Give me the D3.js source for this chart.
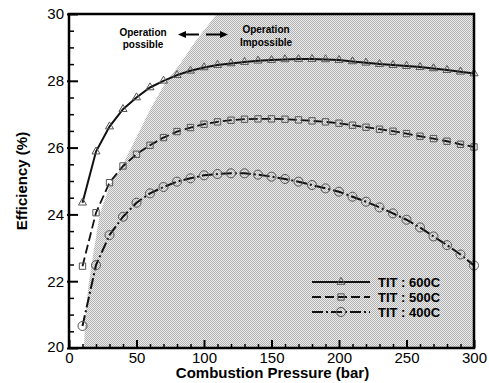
<!DOCTYPE html>
<html>
<head>
<meta charset="utf-8">
<script src="https://cdn.jsdelivr.net/npm/d3@7"></script>
<style>
  html, body { margin: 0; padding: 0; background: #fff; }
  svg { display: block; }
  text { font-family: "Liberation Sans", Arial, sans-serif; fill: #000; }
</style>
</head>
<body>
<div id="chart"></div>
<script>
// combustion pressure (bar)
const pressure = [10, 20, 30, 40, 50, 60, 70, 80, 90, 100, 110, 120, 130, 140, 150,
                  160, 170, 180, 190, 200, 210, 220, 230, 240, 250, 260, 270, 280, 290, 300];

// efficiency (%) per turbine inlet temperature
const eff600 = [24.35, 25.88, 26.63, 27.15, 27.5, 27.8, 28.0, 28.17, 28.3, 28.4, 28.47, 28.52, 28.56, 28.6, 28.62,
                28.64, 28.65, 28.65, 28.64, 28.62, 28.58, 28.54, 28.5, 28.47, 28.44, 28.41, 28.37, 28.32, 28.27, 28.22];
const eff500 = [22.45, 24.05, 24.95, 25.45, 25.8, 26.07, 26.3, 26.48, 26.6, 26.7, 26.77, 26.82, 26.85, 26.86, 26.86,
                26.85, 26.83, 26.8, 26.77, 26.73, 26.67, 26.61, 26.55, 26.49, 26.42, 26.34, 26.27, 26.19, 26.1, 26.02];
const eff400 = [20.66, 22.48, 23.38, 23.93, 24.35, 24.63, 24.82, 24.98, 25.08, 25.17, 25.21, 25.23, 25.23, 25.19, 25.13,
                25.06, 24.98, 24.88, 24.78, 24.68, 24.53, 24.38, 24.21, 24.03, 23.84, 23.61, 23.34, 23.08, 22.8, 22.47];

// limit of possible operation (pressure, efficiency)
const limitP = [11.1, 11.9, 14.3, 18.0, 23.0, 30.4, 39.0, 45.2, 52.6, 60.0, 71.1, 82.2, 93.3, 109.4];
const limitE = [20.0, 20.84, 21.84, 22.84, 24.04, 24.88, 25.43, 25.93, 26.53, 27.13, 27.93, 28.5, 29.16, 30.0];

const seriesNames = ["TIT : 600C", "TIT : 500C", "TIT : 400C"];
const xTicks = [0, 50, 100, 150, 200, 250, 300];
const yTicks = [20, 22, 24, 26, 28, 30];

const W = 489, H = 383;
const margin = { left: 69, right: 15, top: 14, bottom: 35 };

const svg = d3.select("#chart").append("svg")
  .attr("width", W)
  .attr("height", H);

const x = d3.scaleLinear().domain([0, 300]).range([margin.left, W - margin.right]);
const y = d3.scaleLinear().domain([20, 30]).range([H - margin.bottom, margin.top]);

// halftone-like grey pattern for the impossible region
const defs = svg.append("defs");
const pat = defs.append("pattern")
  .attr("id", "halftone")
  .attr("patternUnits", "userSpaceOnUse")
  .attr("width", 2).attr("height", 2);
pat.append("rect").attr("width", 2).attr("height", 2).attr("fill", "#ececec");
pat.append("rect").attr("x", 0).attr("y", 0).attr("width", 1).attr("height", 1).attr("fill", "#b2b2b2");
pat.append("rect").attr("x", 1).attr("y", 1).attr("width", 1).attr("height", 1).attr("fill", "#b2b2b2");

// shaded region right of the limit curve
const limit = limitP.map((p, i) => [p, limitE[i]]);
const region = limit.concat([[300, 30], [300, 20]]);
svg.append("path")
  .attr("d", d3.line().x(d => x(d[0])).y(d => y(d[1])).curve(d3.curveLinear)(region) + "Z")
  .attr("fill", "url(#halftone)");

// minor ticks
const xMinor = pressure.filter(v => v % 50 !== 0);
const yMinor = [20.5, 21, 21.5, 22.5, 23, 23.5, 24.5, 25, 25.5, 26.5, 27, 27.5, 28.5, 29, 29.5];

svg.append("g")
  .attr("transform", `translate(0,${y(20)})`)
  .call(d3.axisBottom(x).tickValues(xMinor).tickSizeInner(-4).tickSizeOuter(0).tickFormat(""))
  .call(g => g.select(".domain").remove())
  .selectAll("line").attr("stroke-width", 1.5);

svg.append("g")
  .attr("transform", `translate(${x(0)},0)`)
  .call(d3.axisLeft(y).tickValues(yMinor).tickSizeInner(-5).tickSizeOuter(0).tickFormat(""))
  .call(g => g.select(".domain").remove())
  .selectAll("line").attr("stroke-width", 1.5);

// major ticks + labels
const xAxis = svg.append("g")
  .attr("transform", `translate(0,${y(20)})`)
  .call(d3.axisBottom(x).tickValues(xTicks).tickSizeInner(-8).tickSizeOuter(0).tickPadding(4));
xAxis.select(".domain").remove();
xAxis.selectAll("line").attr("stroke-width", 2);
xAxis.selectAll("text").style("font-size", "15px").attr("fill", "#000");

const yAxis = svg.append("g")
  .attr("transform", `translate(${x(0)},0)`)
  .call(d3.axisLeft(y).tickValues(yTicks).tickSizeInner(-9).tickSizeOuter(0).tickPadding(5));
yAxis.select(".domain").remove();
yAxis.selectAll("line").attr("x1", -2).attr("stroke-width", 2);
yAxis.selectAll("text").style("font-size", "15px").attr("fill", "#000");
// the bottom label sits a little left of the x origin label
yAxis.selectAll(".tick").filter(d => d === 20).select("text").attr("dy", "0.2em");

// series
const series = [
  { name: seriesNames[0], values: eff600, dash: null, width: 2, sym: d3.symbolTriangle, size: 28 },
  { name: seriesNames[1], values: eff500, dash: "9,4", width: 1.8, sym: d3.symbolSquare, size: 40 },
  { name: seriesNames[2], values: eff400, dash: "11,3,2,3", width: 2, sym: d3.symbolCircle, size: 64 }
];

const line = d3.line()
  .x((d, i) => x(pressure[i]))
  .y(d => y(d));

series.forEach(s => {
  svg.append("path")
    .attr("d", line(s.values))
    .attr("fill", "none")
    .attr("stroke", "#111")
    .attr("stroke-width", s.width)
    .attr("stroke-dasharray", s.dash);

  svg.append("g").selectAll("path")
    .data(s.values)
    .join("path")
    .attr("transform", (d, i) => `translate(${x(pressure[i])},${y(d)})`)
    .attr("d", d3.symbol().type(s.sym).size(s.size))
    .attr("fill", "none")
    .attr("stroke", "#555")
    .attr("stroke-width", 1);
});

// frame
svg.append("rect")
  .attr("x", x(0))
  .attr("y", y(30))
  .attr("width", x(300) - x(0))
  .attr("height", y(20) - y(30))
  .attr("fill", "none")
  .attr("stroke", "#000")
  .attr("stroke-width", 2.5);

// legend
const legend = svg.append("g");
series.forEach((s, i) => {
  const ly = 282 + i * 15;
  legend.append("line")
    .attr("x1", 312).attr("x2", 370)
    .attr("y1", ly).attr("y2", ly)
    .attr("stroke", "#111")
    .attr("stroke-width", s.width)
    .attr("stroke-dasharray", s.dash);
  legend.append("path")
    .attr("transform", `translate(341,${ly})`)
    .attr("d", d3.symbol().type(s.sym).size(s.size))
    .attr("fill", "none")
    .attr("stroke", "#555");
  legend.append("text")
    .attr("x", 378).attr("y", ly + 5)
    .style("font-size", "13px")
    .style("font-weight", "bold")
    .text(s.name);
});

// annotations
const note = svg.append("g")
  .style("font-family", "'DejaVu Sans', Verdana, sans-serif")
  .style("font-size", "10px")
  .style("font-weight", "bold")
  .attr("text-anchor", "middle");
note.append("text").attr("x", 143).attr("y", 36).text("Operation");
note.append("text").attr("x", 143).attr("y", 48).text("possible");
note.append("text").attr("x", 266).attr("y", 33).text("Operation");
note.append("text").attr("x", 266).attr("y", 46).text("Impossible");

// arrows
const ay = 34.5;
svg.append("line").attr("x1", 184).attr("x2", 199).attr("y1", ay).attr("y2", ay)
  .attr("stroke", "#000").attr("stroke-width", 2);
svg.append("path").attr("d", `M178,${ay}L186,${ay - 3.5}L186,${ay + 3.5}Z`).attr("fill", "#000");
svg.append("line").attr("x1", 206).attr("x2", 222).attr("y1", ay).attr("y2", ay)
  .attr("stroke", "#000").attr("stroke-width", 2);
svg.append("path").attr("d", `M228,${ay}L220,${ay - 3.5}L220,${ay + 3.5}Z`).attr("fill", "#000");

// axis titles
svg.append("text")
  .attr("x", (x(0) + x(300)) / 2 + 1)
  .attr("y", 378)
  .attr("text-anchor", "middle")
  .style("font-size", "15px")
  .style("font-weight", "bold")
  .text("Combustion Pressure (bar)");

svg.append("text")
  .attr("transform", `translate(26.5,${(y(20) + y(30)) / 2}) rotate(-90)`)
  .attr("text-anchor", "middle")
  .style("font-size", "15px")
  .style("font-weight", "bold")
  .text("Efficiency (%)");
</script>
</body>
</html>
